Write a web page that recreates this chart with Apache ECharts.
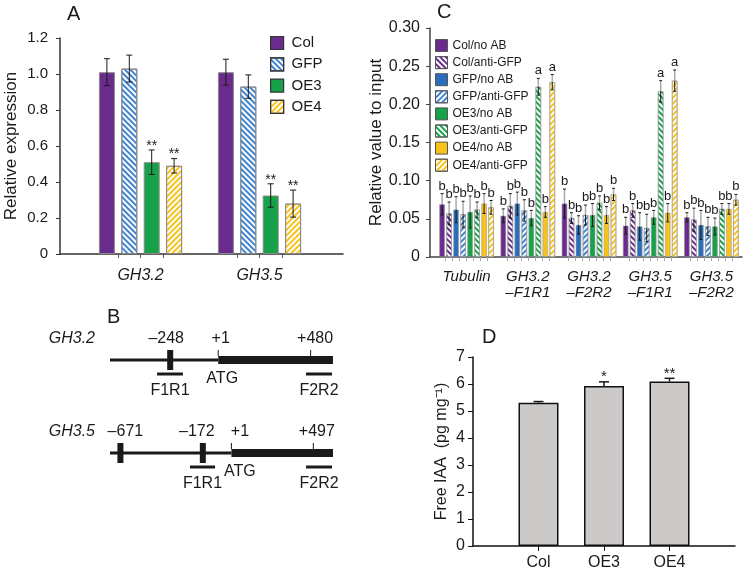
<!DOCTYPE html>
<html><head><meta charset="utf-8">
<script src="https://cdn.jsdelivr.net/npm/echarts@6/dist/echarts.min.js"></script>
<style>html,body{margin:0;padding:0;background:#fff}#c{width:745px;height:572px}</style>
</head><body><div id="c"></div>
<script>
// ---------------- Panel A data ----------------
const aGenes = ['GH3.2', 'GH3.5'];
const aLines = ['Col', 'GFP', 'OE3', 'OE4'];
const aCol = [1.01, 1.01];
const aGFP = [1.03, 0.93];
const aOE3 = [0.51, 0.325];
const aOE4 = [0.49, 0.28];
const aColErr = [0.075, 0.072];
const aGFPErr = [0.075, 0.065];
const aOE3Err = [0.068, 0.065];
const aOE4Err = [0.04, 0.075];
const aColSig = ['', ''];
const aGFPSig = ['', ''];
const aOE3Sig = ['**', '**'];
const aOE4Sig = ['**', '**'];
const aYTicks = [0, 0.2, 0.4, 0.6, 0.8, 1.0, 1.2];

// ---------------- Panel C data ----------------
const cTargets = ['Tubulin', 'GH3.2\n\u2013F1R1', 'GH3.2\n\u2013F2R2', 'GH3.5\n\u2013F1R1', 'GH3.5\n\u2013F2R2'];
const cNames = ['Col/no AB', 'Col/anti-GFP', 'GFP/no AB', 'GFP/anti-GFP', 'OE3/no AB', 'OE3/anti-GFP', 'OE4/no AB', 'OE4/anti-GFP'];
const cColNoAB   = [0.069, 0.054, 0.070, 0.041, 0.052];
const cColAnti   = [0.057, 0.067, 0.051, 0.061, 0.049];
const cGFPNoAB   = [0.062, 0.070, 0.042, 0.040, 0.042];
const cGFPAnti   = [0.056, 0.061, 0.055, 0.038, 0.040];
const cOE3NoAB   = [0.059, 0.051, 0.055, 0.052, 0.040];
const cOE3Anti   = [0.062, 0.223, 0.071, 0.217, 0.063];
const cOE4NoAB   = [0.070, 0.059, 0.055, 0.058, 0.063];
const cOE4Anti   = [0.065, 0.229, 0.082, 0.231, 0.075];
const cColNoABErr = [0.014, 0.009, 0.019, 0.011, 0.006];
const cColAntiErr = [0.015, 0.016, 0.007, 0.009, 0.015];
const cGFPNoABErr = [0.017, 0.015, 0.012, 0.018, 0.019];
const cGFPAntiErr = [0.017, 0.014, 0.013, 0.018, 0.012];
const cOE3NoABErr = [0.021, 0.010, 0.015, 0.009, 0.011];
const cOE3AntiErr = [0.010, 0.011, 0.009, 0.014, 0.007];
const cOE4NoABErr = [0.013, 0.007, 0.011, 0.012, 0.007];
const cOE4AntiErr = [0.009, 0.010, 0.008, 0.014, 0.007];
const cColNoABSig = ['b', 'b', 'b', 'b', 'b'];
const cColAntiSig = ['b', 'b', 'b', 'b', 'b'];
const cGFPNoABSig = ['b', 'b', 'b', 'b', 'b'];
const cGFPAntiSig = ['b', 'b', 'b', 'b', 'b'];
const cOE3NoABSig = ['b', 'b', 'b', 'b', 'b'];
const cOE3AntiSig = ['b', 'a', 'b', 'a', 'b'];
const cOE4NoABSig = ['b', 'b', 'b', 'b', 'b'];
const cOE4AntiSig = ['b', 'a', 'b', 'a', 'b'];

// ---------------- Panel D data ----------------
const dLines = ['Col', 'OE3', 'OE4'];
const dIAA = [5.31, 5.93, 6.09];
const dErr = [0.04, 0.15, 0.12];
const dSig = ['', '*', '**'];

// ---------------- Panel B data (positions in bp) ----------------
const gh32Span = [-560, 596];
const gh32Boxes = [-248];
const gh32Marks = [-248, 1, 480];
const gh32MarkText = ['\u2013248', '+1', '+480'];
const gh32Primers = [[-316, -182], [456, 591]];
const gh32PrimerText = ['F1R1', 'F2R2'];
const gh35Span = [-734, 616];
const gh35Boxes = [-671, -172];
const gh35Marks = [-671, -172, 1, 497];
const gh35MarkText = ['\u2013671', '\u2013172', '+1', '+497'];
const gh35Primers = [[-250, -98], [453, 610]];
const gh35PrimerText = ['F1R1', 'F2R2'];

// ---------------- styling / layout ----------------
const FONT = '"Liberation Sans", Arial, sans-serif';
const INK = '#1a1a1a';
const PURPLE = '#6a2c8c', BLUE = '#2a6ebb', BLUE_H = '#3f84d0', GREEN = '#17a24a', YELLOW = '#f7c21a';
// label nudges (px) for the schematic text, purely typographic
const gh32LabelDx = [-4, 2.5, 4.5], gh32AtgDx = 4;
const gh35LabelDx = [5, -6, 8.5, 3.5], gh35AtgDx = 8.5;
function hatch(color, dir) {
  return { symbol: 'rect', symbolSize: 1, color: color, dashArrayX: [1, 0], dashArrayY: [2, 2], rotation: dir * Math.PI / 4 };
}

const A = { left: 81, top: 38, width: 238, height: 216, frameLeft: 60, frameWidth: 283, barW: 16, gap: 0.4 };
A.spacing = A.barW * (1 + A.gap);
const C = { left: 436, top: 28, width: 306, height: 229, frameLeft: 430, frameWidth: 312, barW: 5.5, gap: 0.273 };
C.spacing = C.barW * (1 + C.gap);
const D = { left: 473, top: 357, width: 262, height: 189 };

function innerTicks(P, nCat, nBars) {
  const band = P.width / nCat, out = [];
  for (let i = 0; i < nCat; i++) {
    const c = P.left - P.frameLeft + band * (i + 0.5);
    for (let d = -(nBars / 2 - 1); d <= nBars / 2 - 1; d++) out.push(c + d * P.spacing);
  }
  return out;
}

function errSeries(xi, k, n, spacing, vals, errs, sig, o) {
  const off = o.catOffset || 0;
  return {
    type: 'custom', xAxisIndex: xi, yAxisIndex: xi, z: 5, silent: true,
    data: vals.map((v, i) => [i + off, v, errs[i]]),
    encode: { x: 0, y: 1 },
    renderItem: function (params, api) {
      const i = api.value(0), v = api.value(1), e = api.value(2);
      const base = api.coord([i, v]);
      const x = base[0] + (k - (n - 1) / 2) * spacing;
      const yv = base[1], yh = api.coord([i, v + e])[1], yl = api.coord([i, v - e])[1];
      const ch = [];
      if (o.split) {
        ch.push({ type: 'line', shape: { x1: x, y1: yv, x2: x, y2: yh }, style: { stroke: '#aaa', lineWidth: 1.5 } });
        ch.push({ type: 'line', shape: { x1: x, y1: yl, x2: x, y2: yv }, style: { stroke: INK, lineWidth: 1 } });
      } else {
        ch.push({ type: 'line', shape: { x1: x, y1: o.upOnly ? yv : yl, x2: x, y2: yh }, style: { stroke: INK, lineWidth: o.lw } });
      }
      ch.push({ type: 'line', shape: { x1: x - o.cap, y1: yh, x2: x + o.cap, y2: yh }, style: { stroke: INK, lineWidth: o.lw } });
      if (!o.upOnly) ch.push({ type: 'line', shape: { x1: x - o.cap, y1: yl, x2: x + o.cap, y2: yl }, style: { stroke: INK, lineWidth: o.lw } });
      const s = sig[params.dataIndex];
      if (s) ch.push({ type: 'text', style: { text: s, x: x, y: yh - o.sigGap, align: 'center', verticalAlign: 'bottom', font: o.sigFont, fill: INK } });
      return { type: 'group', children: ch };
    }
  };
}

function geneSeries(xi, span, boxes, marks, markText, labelDx, atgDx, primers, primerText, name) {
  return {
    type: 'custom', xAxisIndex: xi, yAxisIndex: xi, silent: true,
    data: [[0, 0]], encode: { x: 0, y: 1 },
    renderItem: function (params, api) {
      const X = bp => api.coord([bp, 0])[0];
      const y0 = api.coord([0, 0])[1];
      const ch = [];
      const f16 = '16px ' + FONT;
      ch.push({ type: 'line', shape: { x1: X(span[0]), y1: y0, x2: X(1), y2: y0 }, style: { stroke: INK, lineWidth: 3 } });
      ch.push({ type: 'rect', shape: { x: X(1), y: y0 - 4, width: X(span[1]) - X(1), height: 8 }, style: { fill: INK } });
      boxes.forEach(b => ch.push({ type: 'rect', shape: { x: X(b) - 3, y: y0 - 10, width: 6, height: 20 }, style: { fill: INK } }));
      marks.forEach((m, i) => {
        if (m >= 1) ch.push({ type: 'line', shape: { x1: X(m), y1: y0 - 4, x2: X(m), y2: y0 - 10 }, style: { stroke: INK, lineWidth: 1 } });
        ch.push({ type: 'text', style: { text: markText[i], x: X(m) + labelDx[i], y: y0 - 21, align: 'center', verticalAlign: 'middle', font: f16, fill: INK } });
      });
      ch.push({ type: 'text', style: { text: 'ATG', x: X(1) + atgDx, y: y0 + 19, align: 'center', verticalAlign: 'middle', font: f16, fill: INK } });
      primers.forEach((p, i) => {
        ch.push({ type: 'line', shape: { x1: X(p[0]), y1: y0 + 14, x2: X(p[1]), y2: y0 + 14 }, style: { stroke: INK, lineWidth: 3 } });
        ch.push({ type: 'text', style: { text: primerText[i], x: (X(p[0]) + X(p[1])) / 2, y: y0 + 31, align: 'center', verticalAlign: 'middle', font: f16, fill: INK } });
      });
      ch.push({ type: 'text', style: { text: name, x: X(span[0]) - 15, y: y0 - 21, align: 'right', verticalAlign: 'middle', font: 'italic ' + f16, fill: INK } });
      return { type: 'group', children: ch };
    }
  };
}

const aVals = [aCol, aGFP, aOE3, aOE4];
const aErrs = [aColErr, aGFPErr, aOE3Err, aOE4Err];
const aSigs = [aColSig, aGFPSig, aOE3Sig, aOE4Sig];
const aStyles = [
  { color: PURPLE },
  { color: '#fff', decal: hatch(BLUE_H, 1) },
  { color: GREEN },
  { color: '#fff', decal: hatch(YELLOW, -1) }
];
const cVals = [cColNoAB, cColAnti, cGFPNoAB, cGFPAnti, cOE3NoAB, cOE3Anti, cOE4NoAB, cOE4Anti];
const cErrs = [cColNoABErr, cColAntiErr, cGFPNoABErr, cGFPAntiErr, cOE3NoABErr, cOE3AntiErr, cOE4NoABErr, cOE4AntiErr];
const cSigs = [cColNoABSig, cColAntiSig, cGFPNoABSig, cGFPAntiSig, cOE3NoABSig, cOE3AntiSig, cOE4NoABSig, cOE4AntiSig];
const cStyles = [
  { color: PURPLE },
  { color: '#fff', decal: hatch(PURPLE, 1) },
  { color: BLUE },
  { color: '#fff', decal: hatch(BLUE_H, -1) },
  { color: GREEN },
  { color: '#fff', decal: hatch(GREEN, 1) },
  { color: YELLOW },
  { color: '#fff', decal: hatch(YELLOW, -1) }
];

const series = [];
aLines.forEach((nm, k) => {
  series.push({ name: nm, type: 'bar', xAxisIndex: 0, yAxisIndex: 0, data: aVals[k], barWidth: A.barW, barGap: (A.gap * 100) + '%',
    itemStyle: Object.assign({ borderColor: '#8a8a8a', borderWidth: 1 }, aStyles[k]) });
  series.push(errSeries(0, k, 4, A.spacing, aVals[k], aErrs[k], aSigs[k], { cap: 3, lw: 1, sigGap: -3, sigFont: '14px ' + FONT }));
});
cNames.forEach((nm, k) => {
  series.push({ name: nm, type: 'bar', xAxisIndex: 2, yAxisIndex: 2, data: cVals[k], barWidth: C.barW, barGap: (C.gap * 100) + '%',
    itemStyle: Object.assign({ borderColor: '#9a9a9a', borderWidth: 0.6 }, cStyles[k]) });
  series.push(errSeries(2, k, 8, C.spacing, cVals[k], cErrs[k], cSigs[k], { cap: 1.5, lw: 1, split: true, sigGap: 1, sigFont: '13px ' + FONT }));
});
series.push({ name: 'IAA', type: 'bar', xAxisIndex: 4, yAxisIndex: 4, data: ['-'].concat(dIAA, ['-']), barWidth: 40,
  itemStyle: { color: '#cccac8', borderColor: '#111', borderWidth: 1.5 } });
series.push(errSeries(4, 0, 1, 0, dIAA, dErr, dSig, { catOffset: 1, cap: 5, lw: 1.5, upOnly: true, sigGap: -3, sigFont: '15px ' + FONT }));
series.push(geneSeries(5, gh32Span, gh32Boxes, gh32Marks, gh32MarkText, gh32LabelDx, gh32AtgDx, gh32Primers, gh32PrimerText, 'GH3.2'));
series.push(geneSeries(6, gh35Span, gh35Boxes, gh35Marks, gh35MarkText, gh35LabelDx, gh35AtgDx, gh35Primers, gh35PrimerText, 'GH3.5'));

const hiddenY = (gi) => ({ gridIndex: gi, type: 'value', show: false, min: 0, max: 1 });
const noSplit = { show: false };
const titleStyle = { fontSize: 20, fontWeight: 'normal', color: INK, fontFamily: FONT };

const option = {
  animation: false,
  backgroundColor: '#fff',
  textStyle: { fontFamily: FONT, color: INK },
  title: [
    { text: 'A', left: 67, top: 4, padding: 0, textStyle: titleStyle },
    { text: 'C', left: 437, top: 2, padding: 0, textStyle: titleStyle },
    { text: 'B', left: 107, top: 307, padding: 0, textStyle: titleStyle },
    { text: 'D', left: 482, top: 327, padding: 0, textStyle: titleStyle }
  ],
  legend: [
    { data: aLines, orient: 'vertical', left: 270, top: 35.5, padding: 0, itemWidth: 13, itemHeight: 13, itemGap: 6.3, icon: 'rect',
      itemStyle: { borderColor: '#333', borderWidth: 1.2 }, selectedMode: false,
      textStyle: { fontSize: 15, lineHeight: 15, color: INK, padding: [0, 0, 0, 3], fontFamily: FONT } },
    { data: cNames, orient: 'vertical', left: 435, top: 39, padding: 0, itemWidth: 12, itemHeight: 12, itemGap: 4.1, icon: 'rect',
      itemStyle: { borderColor: '#555', borderWidth: 1 }, selectedMode: false,
      textStyle: { fontSize: 12, lineHeight: 12, color: INK, fontFamily: FONT } }
  ],
  grid: [
    { left: A.left, top: A.top, width: A.width, height: A.height, outerBoundsMode: 'none' },
    { left: A.frameLeft, top: A.top, width: A.frameWidth, height: A.height, outerBoundsMode: 'none' },
    { left: C.left, top: C.top, width: C.width, height: C.height, outerBoundsMode: 'none' },
    { left: C.frameLeft, top: C.top, width: C.frameWidth, height: C.height, outerBoundsMode: 'none' },
    { left: D.left, top: D.top, width: D.width, height: D.height, outerBoundsMode: 'none' },
    { left: 110, top: 350, width: 223, height: 20, outerBoundsMode: 'none' },
    { left: 110, top: 443, width: 223, height: 20, outerBoundsMode: 'none' }
  ],
  xAxis: [
    { gridIndex: 0, type: 'category', data: aGenes, axisLine: { show: false }, axisTick: { show: false },
      axisLabel: { fontSize: 16, fontStyle: 'italic', color: INK, margin: 14 }, splitLine: noSplit },
    { gridIndex: 1, type: 'value', min: 0, max: A.frameWidth, axisLine: { show: true, onZero: false, lineStyle: { color: '#333', width: 1.5 } },
      axisTick: { show: true, customValues: innerTicks(A, aGenes.length, 4), length: 4, lineStyle: { color: '#555' } },
      axisLabel: { show: false }, splitLine: noSplit },
    { gridIndex: 2, type: 'category', data: cTargets, axisLine: { show: false }, axisTick: { show: false },
      axisLabel: { fontSize: 15, fontStyle: 'italic', color: INK, margin: 12, lineHeight: 16, interval: 0 }, splitLine: noSplit },
    { gridIndex: 3, type: 'value', min: 0, max: C.frameWidth, axisLine: { show: true, onZero: false, lineStyle: { color: '#444', width: 1.5 } },
      axisTick: { show: true, customValues: innerTicks(C, cTargets.length, 8), length: 4, lineStyle: { color: '#aaa' } },
      axisLabel: { show: false }, splitLine: noSplit },
    { gridIndex: 4, type: 'category', data: [''].concat(dLines, ['']), boundaryGap: false,
      axisLine: { show: true, onZero: false, lineStyle: { color: '#111', width: 1.5 } },
      axisTick: { show: true, length: 5, interval: function (i) { return i > 0 && i < dLines.length + 1; }, lineStyle: { color: '#111' } },
      axisLabel: { fontSize: 16, color: INK, margin: 9, interval: 0 }, splitLine: noSplit },
    { gridIndex: 5, type: 'value', min: gh32Span[0], max: gh32Span[1], show: false },
    { gridIndex: 6, type: 'value', min: gh35Span[0], max: gh35Span[1], show: false }
  ],
  yAxis: [
    { gridIndex: 0, type: 'value', min: aYTicks[0], max: aYTicks[aYTicks.length - 1], interval: aYTicks[1] - aYTicks[0], offset: A.left - A.frameLeft,
      axisLine: { show: true, lineStyle: { color: '#333', width: 1.5 } }, axisTick: { show: true, length: 4, lineStyle: { color: '#333' } },
      axisLabel: { fontSize: 15, color: INK, margin: 12, formatter: v => v === 0 ? '0' : v.toFixed(1) }, splitLine: noSplit,
      name: 'Relative expression', nameLocation: 'middle', nameGap: 40, nameTextStyle: { fontSize: 17, color: INK } },
    hiddenY(1),
    { gridIndex: 2, type: 'value', min: 0, max: 0.3, interval: 0.05, offset: C.left - C.frameLeft,
      axisLine: { show: true, lineStyle: { color: '#444', width: 1.5 } }, axisTick: { show: true, length: 4, lineStyle: { color: '#444' } },
      axisLabel: { fontSize: 16, color: INK, margin: 10, formatter: v => v === 0 ? '0' : v.toFixed(2) }, splitLine: noSplit,
      name: 'Relative value to input', nameLocation: 'middle', nameGap: 43, nameTextStyle: { fontSize: 17, color: INK } },
    hiddenY(3),
    { gridIndex: 4, type: 'value', min: 0, max: 7, interval: 1,
      axisLine: { show: true, lineStyle: { color: '#111', width: 1.5 } }, axisTick: { show: true, length: 5, lineStyle: { color: '#111' } },
      axisLabel: { fontSize: 16, color: INK, margin: 8 }, splitLine: noSplit,
      name: 'Free IAA  (pg mg\u207B\u00B9)', nameLocation: 'middle', nameGap: 23, nameTextStyle: { fontSize: 16, color: INK } },
    { gridIndex: 5, type: 'value', min: -1, max: 1, show: false },
    { gridIndex: 6, type: 'value', min: -1, max: 1, show: false }
  ],
  series: series
};

const chart = echarts.init(document.getElementById('c'), null, { renderer: 'canvas' });
chart.setOption(option);
</script>
</body></html>
